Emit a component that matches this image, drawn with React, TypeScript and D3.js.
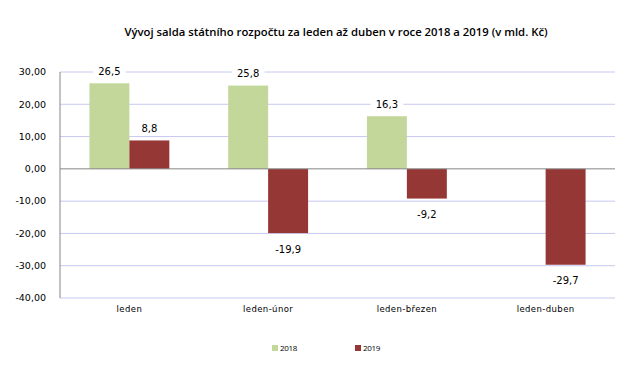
import React from "react";
import * as d3 from "d3";

const categories = ["leden", "leden-únor", "leden-březen", "leden-duben"];
const series2018: (number | null)[] = [26.5, 25.8, 16.3, null];
const series2019: (number | null)[] = [8.8, -19.9, -9.2, -29.7];
const yTicks = [30, 20, 10, 0, -10, -20, -30, -40];
const seriesNames = ["2018", "2019"];
const colors = ["#c4d79b", "#953735"];

export default function App() {
  const W = 631, H = 377;
  const left = 60, right = 615, top = 72, bottom = 298;
  const y = d3.scaleLinear().domain([-40, 30]).range([bottom, top]);
  const x = d3.scaleBand<string>().domain(categories).range([left, right]).paddingInner(0.424).paddingOuter(0.212);
  const inner = d3.scaleBand<string>().domain(seriesNames).range([0, x.bandwidth()]);
  const fmtTick = (v: number) => v.toFixed(2).replace(".", ",");
  const fmtLab = (v: number) => v.toFixed(1).replace(".", ",");
  const all = [series2018, series2019];
  const font = "Verdana, 'DejaVu Sans', sans-serif";
  return (
    <svg width={W} height={H} style={{ position: "absolute", left: 0, top: 0, background: "#fff" }}>
      <rect width={W} height={H} fill="#fff" />
      <text x={336} y={36} textAnchor="middle" fontFamily="'Open Sans', sans-serif" fontWeight={600} fontSize={11.3} fill="#000">
        Vývoj salda státního rozpočtu za leden až duben v roce 2018 a 2019 (v mld. Kč)
      </text>
      {yTicks.map((t) => (
        <g key={t}>
          {t !== 0 && <line x1={left} x2={right} y1={y(t)} y2={y(t)} stroke="#c8c8f0" strokeWidth={1} />}
          <text x={46} y={y(t)} dy="0.35em" textAnchor="end" fontFamily={font} fontSize={9.5} fill="#000">
            {fmtTick(t)}
          </text>
        </g>
      ))}
      {all.map((s, si) =>
        s.map((v, ci) => {
          if (v === null) return null;
          const bx = (x(categories[ci]) as number) + (inner(seriesNames[si]) as number);
          const bw = inner.bandwidth();
          const y0 = y(0), y1 = y(v);
          return (
            <rect key={si + "-" + ci} x={bx} width={bw} y={Math.min(y0, y1)} height={Math.abs(y1 - y0)} fill={colors[si]} />
          );
        })
      )}
      <line x1={left} x2={right} y1={y(0)} y2={y(0)} stroke="#868686" strokeWidth={1} />
      <line x1={left} x2={left} y1={top} y2={bottom} stroke="#868686" strokeWidth={1} />
      {all.map((s, si) =>
        s.map((v, ci) => {
          if (v === null) return null;
          const cx = (x(categories[ci]) as number) + (inner(seriesNames[si]) as number) + inner.bandwidth() / 2;
          const ly = v >= 0 ? y(v) - 12 : y(v) + 16;
          const label = fmtLab(v);
          const tw = label.length * 6.2 + 8;
          return (
            <g key={"l" + si + "-" + ci}>
              <rect x={cx - tw / 2} y={ly - 7} width={tw} height={14} fill="#fff" />
              <text x={cx} y={ly} dy="0.35em" textAnchor="middle" fontFamily={font} fontSize={10} fill="#000">
                {label}
              </text>
            </g>
          );
        })
      )}
      {categories.map((c) => (
        <text key={c} x={(x(c) as number) + x.bandwidth() / 2} y={312} textAnchor="middle" fontFamily={font} fontSize={8.5} letterSpacing={0.4} fill="#000">
          {c}
        </text>
      ))}
      {seriesNames.map((n, i) => {
        const lx = [272, 355][i];
        return (
          <g key={n}>
            <rect x={lx} y={345} width={6} height={6} fill={colors[i]} />
            <text x={lx + 8} y={348} dy="0.35em" fontFamily="'Open Sans', sans-serif" fontSize={8} letterSpacing={-0.3} fill="#000">
              {n}
            </text>
          </g>
        );
      })}
    </svg>
  );
}
